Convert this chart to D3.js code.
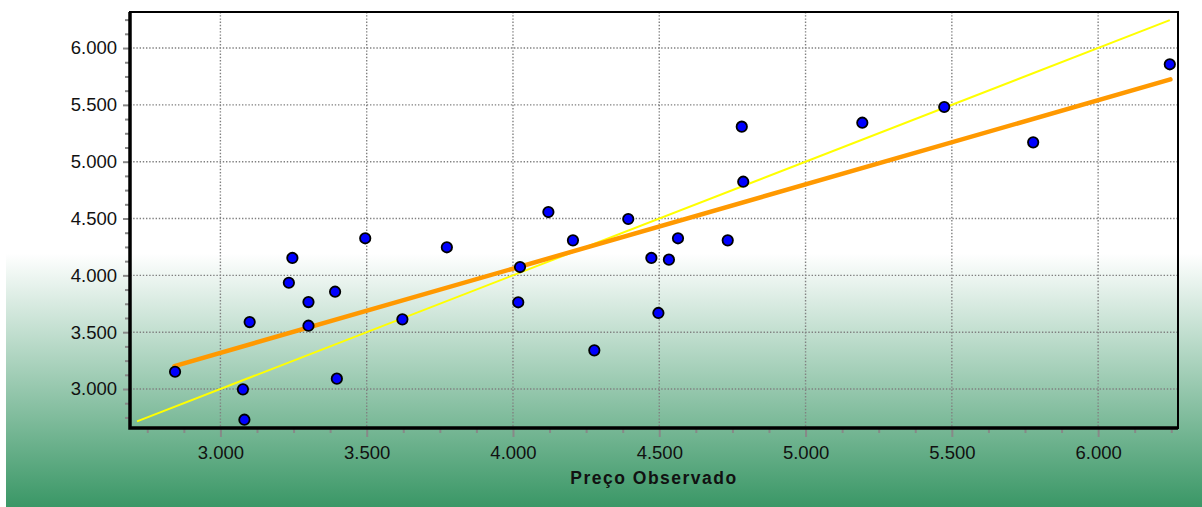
<!DOCTYPE html>
<html>
<head>
<meta charset="utf-8">
<script src="https://cdn.jsdelivr.net/npm/d3@7"></script>
<style>
  body { margin: 0; background: #fff; }
  svg text { font-family: "Liberation Sans", Arial, sans-serif; }
</style>
</head>
<body>
<svg id="chart" width="1202" height="507"></svg>
<script>
let observed = [2845, 3077, 3082, 3100, 3234, 3246, 3301, 3301, 3392, 3398,
	3495, 3622, 3774, 4018, 4024, 4121, 4205, 4278, 4394, 4473,
	4497, 4533, 4564, 4734, 4782, 4787, 5194, 5474, 5778, 6245];
let predicted = [3152, 2997, 2730, 3589, 3935, 4153, 3765, 3557, 3856, 3091,
	4326, 3613, 4247, 3763, 4073, 4557, 4308, 3340, 4496, 4153,
	3669, 4138, 4326, 4308, 5308, 4824, 5343, 5481, 5170, 5857];

// identity line (yellow) and fitted line (orange), endpoints
let identityLine = [[2715, 2715], [6245, 6245]];
let fitLine = [[2843, 3202], [6247, 5724]];

let majorTicks = [3000, 3500, 4000, 4500, 5000, 5500, 6000];
let tickLabels = ["3.000", "3.500", "4.000", "4.500", "5.000", "5.500", "6.000"];
let xTitle = "Preço Observado";

let svg = d3.select("#chart");
let plotLeft = 130, plotRight = 1178, plotTop = 12, plotBottom = 428;

// background gradient
let grad = svg.append("defs").append("linearGradient")
	.attr("id", "bg")
	.attr("gradientUnits", "userSpaceOnUse")
	.attr("x1", 0).attr("y1", 0).attr("x2", 0).attr("y2", 507);
grad.append("stop").attr("offset", 0.5).attr("stop-color", "#ffffff");
grad.append("stop").attr("offset", 1).attr("stop-color", "#3a9766");

svg.append("rect")
	.attr("x", 6).attr("y", 0)
	.attr("width", 1196).attr("height", 507)
	.attr("fill", "url(#bg)");

let x = d3.scaleLinear().domain([2691, 6273]).range([plotLeft, plotRight]);
let y = d3.scaleLinear().domain([2657, 6317]).range([plotBottom, plotTop]);

let minorX = d3.range(2750, 6273, 125).filter(v => v % 500 != 0);
let minorY = d3.range(2750, 6317, 125).filter(v => v % 500 != 0);

// grid lines
let grid = svg.append("g");
grid.selectAll(".vg").data(majorTicks).join("line")
	.attr("x1", d => x(d)).attr("x2", d => x(d))
	.attr("y1", plotTop).attr("y2", plotBottom)
	.attr("stroke", "#808080").attr("stroke-width", 1.4)
	.attr("stroke-dasharray", "1.4,1.8");
grid.selectAll(".hg").data(majorTicks).join("line")
	.attr("y1", d => y(d)).attr("y2", d => y(d))
	.attr("x1", plotLeft).attr("x2", plotRight)
	.attr("stroke", "#808080").attr("stroke-width", 1.4)
	.attr("stroke-dasharray", "1.4,1.8");

// minor ticks
svg.append("g").attr("transform", `translate(0,${plotBottom})`)
	.call(d3.axisBottom(x).tickValues(minorX).tickSize(5).tickFormat(""))
	.call(g => g.select(".domain").remove())
	.call(g => g.selectAll("line").attr("stroke", "#888").attr("stroke-width", 2));
svg.append("g").attr("transform", `translate(${plotLeft},0)`)
	.call(d3.axisLeft(y).tickValues(minorY).tickSize(5).tickFormat(""))
	.call(g => g.select(".domain").remove())
	.call(g => g.selectAll("line").attr("stroke", "#888").attr("stroke-width", 2));

// major ticks + labels
svg.append("g").attr("transform", `translate(0,${plotBottom})`)
	.call(d3.axisBottom(x).tickValues(majorTicks).tickSize(9).tickPadding(9)
		.tickFormat((d, i) => tickLabels[i]))
	.call(g => g.select(".domain").remove())
	.call(g => g.selectAll("line").attr("stroke", "#888").attr("stroke-width", 2))
	.call(g => g.selectAll("text").attr("font-size", 18.5).attr("fill", "#111")
		.attr("font-family", "Liberation Sans, Arial, sans-serif"));
svg.append("g").attr("transform", `translate(${plotLeft},0)`)
	.call(d3.axisLeft(y).tickValues(majorTicks).tickSize(7).tickPadding(6)
		.tickFormat((d, i) => tickLabels[i]))
	.call(g => g.select(".domain").remove())
	.call(g => g.selectAll("line").attr("stroke", "#888").attr("stroke-width", 2))
	.call(g => g.selectAll("text").attr("font-size", 18.5).attr("fill", "#111")
		.attr("font-family", "Liberation Sans, Arial, sans-serif"));

// frame
svg.append("rect")
	.attr("x", plotLeft).attr("y", plotTop)
	.attr("width", plotRight - plotLeft).attr("height", plotBottom - plotTop)
	.attr("fill", "none").attr("stroke", "#000").attr("stroke-width", 2);
svg.append("path")
	.attr("d", `M${plotLeft},${plotTop}V${plotBottom}H${plotRight}`)
	.attr("fill", "none").attr("stroke", "#000").attr("stroke-width", 3.5);

// lines
let line = d3.line().x(d => x(d[0])).y(d => y(d[1]));
svg.append("path").attr("d", line(identityLine))
	.attr("stroke", "#ffff00").attr("stroke-width", 2).attr("fill", "none");
svg.append("path").attr("d", line(fitLine))
	.attr("stroke", "#ff9900").attr("stroke-width", 4.5).attr("fill", "none")
	.attr("stroke-linecap", "round");

// points
svg.append("g").selectAll("circle")
	.data(observed.map((d, i) => ({ obs: d, pred: predicted[i] })))
	.join("circle")
	.attr("cx", d => x(d.obs))
	.attr("cy", d => y(d.pred))
	.attr("r", 5.2)
	.attr("fill", "#0000ff")
	.attr("stroke", "#000")
	.attr("stroke-width", 1.8);

// axis title
svg.append("text")
	.attr("x", (plotLeft + plotRight) / 2).attr("y", 484)
	.attr("text-anchor", "middle")
	.attr("font-size", 17.5).attr("font-weight", "bold")
	.attr("letter-spacing", 1.5)
	.attr("fill", "#111")
	.text(xTitle);
</script>
</body>
</html>
